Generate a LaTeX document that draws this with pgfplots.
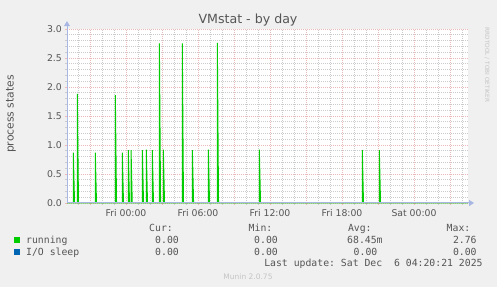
\documentclass[border=0pt]{standalone}
\usepackage{pgfplots}
\pgfplotsset{compat=1.18}
\usepackage{fontspec}
\setmainfont{DejaVu Sans}
\newfontfamily\mono{DejaVu Sans Mono}
\usetikzlibrary{arrows.meta}
\definecolor{bgcol}{HTML}{F0F0F0}
\definecolor{fontcol}{HTML}{555555}
\definecolor{axcol}{HTML}{A8B6E4}
\definecolor{mgrid}{HTML}{ECB8B8}
\definecolor{ngrid}{HTML}{CCCCCC}
\definecolor{run}{HTML}{00CC00}
\definecolor{ios}{HTML}{0066B3}
\definecolor{wm}{HTML}{C4C4C4}
\begin{document}
\begin{tikzpicture}
\fill[bgcol] (0,0) rectangle (497bp,287bp);
\path[use as bounding box] (0,0) rectangle (497bp,287bp);
\begin{axis}[
  at={(67bp,84bp)}, anchor=south west,
  scale only axis, width=401bp, height=174bp,
  xmin=-4.917, xmax=28.5, ymin=0, ymax=3,
  axis background/.style={fill=white},
  axis x line*=bottom, axis y line*=left,
  axis line style={draw=none},
  xtick={-3,0,...,27},
  xticklabels={{},Fri 00:00,{},Fri 06:00,{},Fri 12:00,{},Fri 18:00,{},Sat 00:00,{}},
  minor xtick={-4,-2,-1,1,2,4,5,7,8,10,11,13,14,16,17,19,20,22,23,25,26,28},
  ytick={0,0.5,...,3},
  minor ytick={0.1,0.2,0.3,0.4,0.6,0.7,0.8,0.9,1.1,1.2,1.3,1.4,1.6,1.7,1.8,1.9,2.1,2.2,2.3,2.4,2.6,2.7,2.8,2.9},
  /pgf/number format/fixed,
  /pgf/number format/fixed zerofill,
  /pgf/number format/precision=1,
  /pgf/number format/assume math mode=true,
  grid=both,
  major grid style={draw=mgrid, line width=0.7bp, dash pattern=on 1bp off 1bp},
  minor grid style={draw=ngrid, line width=0.7bp, dash pattern=on 1bp off 1bp},
  tick align=outside,
  major tick length=2bp, minor tick length=2bp,
  major tick style={draw=mgrid, line width=0.8bp},
  minor tick style={draw=ngrid, line width=0.8bp},
  tick label style={font=\fontsize{9.3bp}{11bp}\selectfont, text=fontcol, inner sep=0pt},
  xticklabel style={anchor=north, yshift=-4.3bp},
  yticklabel style={anchor=east, xshift=-3bp},
  clip=false,
]
\addplot[ios, line width=1bp] coordinates {(-4.917,0) (28.5,0)};
\addplot[run, line width=1bp, line join=miter] coordinates {
(-4.917,0)
(-4.39,0) (-4.39,0.87) (-4.29,0)
(-4.06,0) (-4.06,1.88) (-3.96,0)
(-2.56,0) (-2.56,0.87) (-2.46,0)
(-0.89,0) (-0.89,1.86) (-0.79,0)
(-0.31,0) (-0.31,0.87) (-0.21,0)
(0.19,0) (0.19,0.91) (0.29,0)
(0.42,0) (0.42,0.91) (0.52,0)
(1.36,0) (1.36,0.91) (1.46,0)
(1.69,0) (1.69,0.92) (1.79,0)
(2.19,0) (2.19,0.91) (2.29,0)
(2.78,0) (2.78,2.75) (2.88,0)
(3.11,0) (3.11,0.92) (3.21,0)
(4.69,0) (4.69,2.75) (4.79,0)
(5.53,0) (5.53,0.91) (5.63,0)
(6.86,0) (6.86,0.92) (6.96,0)
(7.61,0) (7.61,2.76) (7.71,0)
(11.11,0) (11.11,0.92) (11.21,0)
(19.69,0) (19.69,0.91) (19.79,0)
(21.11,0) (21.11,0.91) (21.21,0)
(28.5,0)
};
\draw[axcol, line width=1bp, -{Triangle[length=5bp,width=6bp]}] (axis description cs:0,0) -- (axis description cs:1.015,0);
\draw[axcol, line width=1bp, -{Triangle[length=5bp,width=6bp]}] (axis description cs:0,0) -- (axis description cs:0,1.045);
\end{axis}
% texts
\node[anchor=base, text=fontcol, font=\fontsize{12.6bp}{14bp}\selectfont, inner sep=0pt] at (248bp,263bp) {VMstat - by day};
\node[rotate=90, text=fontcol, font=\fontsize{10.8bp}{12bp}\selectfont, inner sep=0pt] at (11bp,173bp) {process states};
\node[rotate=-90, text=wm, font=\fontsize{5.8bp}{7bp}\selectfont, inner sep=0pt] at (487bp,222bp) {RRDTOOL / TOBI OETIKER};
\node[anchor=base, text=wm, font=\fontsize{7.5bp}{9bp}\selectfont, inner sep=0pt] at (248bp,7.7bp) {Munin 2.0.75};
% legend
\fill[run] (14bp,44bp) rectangle (20bp,50bp);
\fill[ios] (14bp,32bp) rectangle (20bp,38bp);
\begin{scope}[every node/.style={anchor=base west, text=fontcol, font=\mono\fontsize{9.8bp}{11bp}\selectfont, inner sep=0pt}]
\node at (149bp,55.7bp) {Cur:};
\node at (248.5bp,55.7bp) {Min:};
\node at (347.8bp,55.7bp) {Avg:};
\node at (446.5bp,55.7bp) {Max:};
\node at (26bp,43.7bp) {running};
\node at (155bp,43.7bp) {0.00};
\node at (254bp,43.7bp) {0.00};
\node at (347bp,43.7bp) {68.45m};
\node at (452.8bp,43.7bp) {2.76};
\node at (26bp,31.7bp) {I/O sleep};
\node at (155bp,31.7bp) {0.00};
\node at (254bp,31.7bp) {0.00};
\node at (353.5bp,31.7bp) {0.00};
\node at (452.8bp,31.7bp) {0.00};
\node[anchor=base east] at (482.8bp,20.3bp) {Last update:\ Sat Dec\ \ 6 04:20:21 2025};
\end{scope}
\end{tikzpicture}
\end{document}
